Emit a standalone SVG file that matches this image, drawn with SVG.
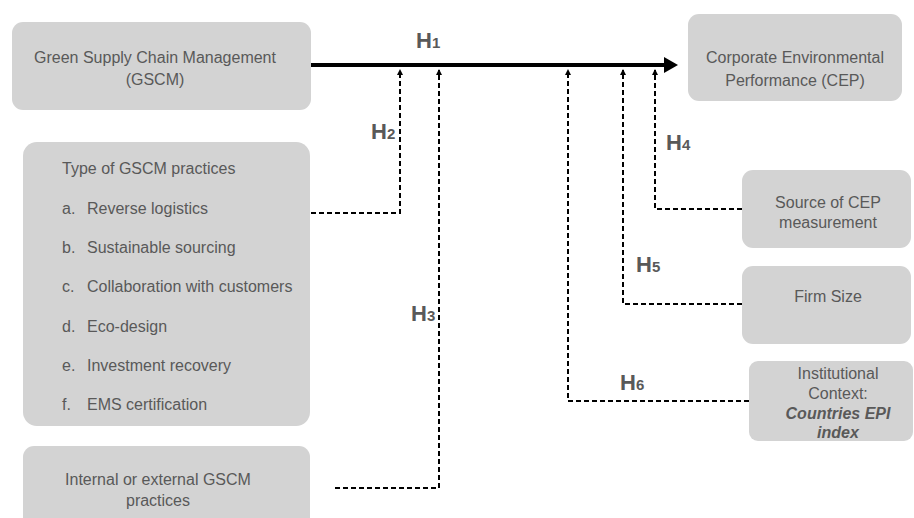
<svg xmlns="http://www.w3.org/2000/svg" width="914" height="518" viewBox="0 0 914 518">
<defs>
<style>
.box{fill:#d3d3d3;}
.t{font-family:"Liberation Sans",Arial,sans-serif;font-size:16px;fill:#595959;}
.c{text-anchor:middle;}
.bi{font-weight:bold;font-style:italic;}
.h{font-family:"Liberation Sans",Arial,sans-serif;font-size:22px;font-weight:bold;fill:#595959;}
.sub{font-size:15px;}
.dash{fill:none;stroke:#000;stroke-width:2;stroke-dasharray:5,3;}
.main{fill:none;stroke:#000;stroke-width:4;}
</style>
<marker id="big" viewBox="0 0 14 16" refX="1" refY="8" markerWidth="14" markerHeight="16" markerUnits="userSpaceOnUse" orient="auto">
<path d="M0,0 L14,8 L0,16 Z" fill="#000"/>
</marker>
<marker id="small" viewBox="0 0 6 6" refX="5" refY="3" markerWidth="6" markerHeight="6" markerUnits="userSpaceOnUse" orient="auto">
<path d="M0,0 L6,3 L0,6 Z" fill="#000"/>
</marker>
</defs>
<rect width="914" height="518" fill="#fff"/>

<g id="gscm">
<rect class="box" x="12" y="22" width="299" height="88" rx="11"/>
<text class="t c" x="155" y="63">Green Supply Chain Management</text>
<text class="t c" x="155" y="85">(GSCM)</text>
</g>

<g id="cep">
<rect class="box" x="688" y="14" width="214" height="87" rx="11"/>
<text class="t c" x="795" y="63">Corporate Environmental</text>
<text class="t c" x="795" y="86">Performance (CEP)</text>
</g>

<g id="types">
<rect class="box" x="23" y="142" width="287" height="284" rx="14"/>
<text class="t" x="62" y="174">Type of GSCM  practices</text>
<text class="t" x="62" y="214">a.</text><text class="t" x="87" y="214">Reverse logistics</text>
<text class="t" x="62" y="253">b.</text><text class="t" x="87" y="253">Sustainable sourcing</text>
<text class="t" x="62" y="292">c.</text><text class="t" x="87" y="292">Collaboration with customers</text>
<text class="t" x="62" y="332">d.</text><text class="t" x="87" y="332">Eco-design</text>
<text class="t" x="62" y="371">e.</text><text class="t" x="87" y="371">Investment recovery</text>
<text class="t" x="62" y="410">f.</text><text class="t" x="87" y="410">EMS certification</text>
</g>

<g id="internal">
<rect class="box" x="23" y="446" width="287" height="90" rx="11"/>
<text class="t c" x="158" y="485">Internal or external GSCM</text>
<text class="t c" x="158" y="506">practices</text>
</g>

<g id="source">
<rect class="box" x="742" y="170" width="169" height="78" rx="11"/>
<text class="t c" x="828" y="208">Source of CEP</text>
<text class="t c" x="828" y="228">measurement</text>
</g>

<g id="firmsize">
<rect class="box" x="742" y="266" width="169" height="78" rx="11"/>
<text class="t c" x="828" y="302">Firm Size</text>
</g>

<g id="institutional">
<rect class="box" x="749" y="361" width="164" height="80" rx="9"/>
<text class="t c" x="838" y="379">Institutional</text>
<text class="t c" x="838" y="399">Context:</text>
<text class="t c bi" x="838" y="419">Countries EPI</text>
<text class="t c bi" x="838" y="438">index</text>
</g>

<g id="connectors">
<line class="main" x1="311" y1="65" x2="665" y2="65" marker-end="url(#big)"/>
<polyline class="dash" points="311,213 400,213 400,70" marker-end="url(#small)"/>
<polyline class="dash" points="335,488 439,488 439,70" marker-end="url(#small)"/>
<polyline class="dash" points="742,209 655,209 655,70" marker-end="url(#small)"/>
<polyline class="dash" points="742,304 623,304 623,70" marker-end="url(#small)"/>
<polyline class="dash" points="749,401 568,401 568,70" marker-end="url(#small)"/>
</g>

<g id="labels">
<text class="h" x="416" y="48">H<tspan class="sub">1</tspan></text>
<text class="h" x="371" y="139">H<tspan class="sub">2</tspan></text>
<text class="h" x="411" y="321">H<tspan class="sub">3</tspan></text>
<text class="h" x="666" y="150">H<tspan class="sub">4</tspan></text>
<text class="h" x="636" y="272">H<tspan class="sub">5</tspan></text>
<text class="h" x="620" y="390">H<tspan class="sub">6</tspan></text>
</g>
</svg>
